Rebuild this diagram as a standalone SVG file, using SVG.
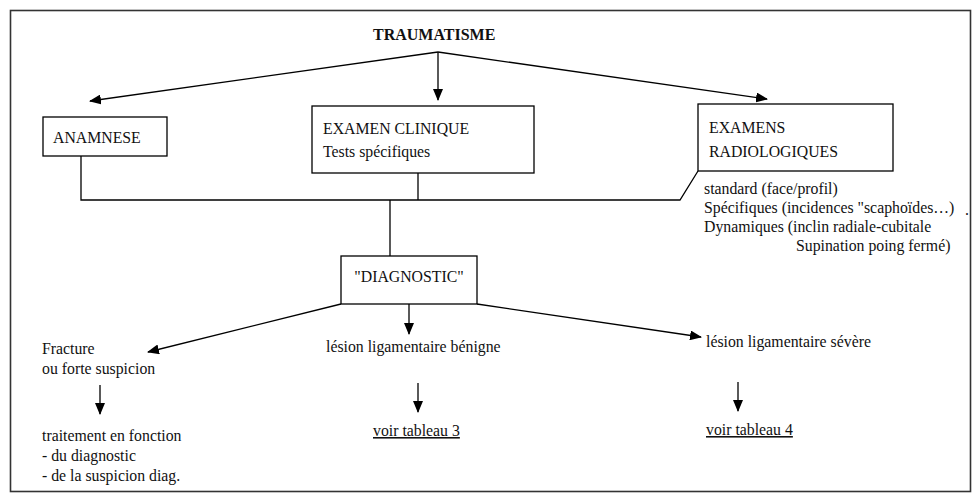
<svg xmlns="http://www.w3.org/2000/svg" width="980" height="502" viewBox="0 0 980 502">
<defs>
<marker id="ah" markerWidth="12" markerHeight="10" refX="11" refY="5" orient="auto" markerUnits="userSpaceOnUse">
<path d="M0,0 L12,5 L0,10 Z" fill="#000"/>
</marker>
<style>
text{font-family:"Liberation Serif","Times New Roman",serif;font-size:15.8px;fill:#111}
.b{font-weight:bold;font-size:16px}
.box{fill:#fff;stroke:#000;stroke-width:1.3}
.ln{fill:none;stroke:#000;stroke-width:1.3}
.ar{fill:none;stroke:#000;stroke-width:1.3;marker-end:url(#ah)}
.u{text-decoration:underline}
</style>
</defs>
<rect x="0" y="0" width="980" height="502" fill="#fff"/>
<rect x="10.5" y="10.5" width="960" height="481" fill="none" stroke="#333" stroke-width="1.6"/>

<g id="connectors">
<line class="ar" x1="438" y1="52" x2="90" y2="101"/>
<line class="ar" x1="438" y1="52" x2="438" y2="100"/>
<line class="ar" x1="438" y1="52" x2="767" y2="99"/>
<polyline class="ln" points="81,156 81,200 680,200 698,171"/>
<line class="ln" x1="418" y1="173" x2="418" y2="200"/>
<line class="ln" x1="390" y1="200" x2="390" y2="256"/>
<line class="ar" x1="409" y1="304" x2="409" y2="334"/>
<line class="ar" x1="341" y1="304" x2="148" y2="352"/>
<line class="ar" x1="477" y1="304" x2="701" y2="337"/>
<line class="ar" x1="100" y1="385" x2="100" y2="414"/>
<line class="ar" x1="418" y1="383" x2="418" y2="412"/>
<line class="ar" x1="738" y1="382" x2="738" y2="411"/>
</g>

<g id="traumatisme"><text class="b" x="373" y="40">TRAUMATISME</text></g>

<g id="anamnese">
<rect class="box" x="43" y="117" width="124" height="39"/>
<text x="53" y="143">ANAMNESE</text>
</g>

<g id="examen-clinique">
<rect class="box" x="312" y="106" width="222" height="67"/>
<text x="323" y="134">EXAMEN CLINIQUE</text>
<text x="323" y="157">Tests spécifiques</text>
</g>

<g id="examens-radiologiques">
<rect class="box" x="698" y="104" width="195" height="67"/>
<text x="709" y="133">EXAMENS</text>
<text x="709" y="157">RADIOLOGIQUES</text>
</g>

<g id="radiologie-details">
<text x="704" y="194">standard (face/profil)</text>
<text x="704" y="213">Spécifiques (incidences "scaphoïdes…)</text>
<text x="965" y="215">.</text>
<text x="704" y="232">Dynamiques (inclin radiale-cubitale</text>
<text x="796" y="251">Supination poing fermé)</text>
</g>

<g id="diagnostic">
<rect class="box" x="341" y="256" width="136" height="48"/>
<text x="409" y="282" text-anchor="middle">"DIAGNOSTIC"</text>
</g>

<g id="fracture">
<text x="42" y="354">Fracture</text>
<text x="42" y="374">ou forte suspicion</text>
</g>

<g id="lesion-benigne"><text x="326" y="352">lésion ligamentaire bénigne</text></g>
<g id="lesion-severe"><text x="706" y="347">lésion ligamentaire sévère</text></g>

<g id="traitement">
<text x="42" y="441">traitement en fonction</text>
<text x="42" y="461">- du diagnostic</text>
<text x="42" y="481">- de la suspicion diag.</text>
</g>

<g id="tableau3"><text class="u" x="373" y="436">voir tableau 3</text></g>
<g id="tableau4"><text class="u" x="706" y="435">voir tableau 4</text></g>
</svg>
